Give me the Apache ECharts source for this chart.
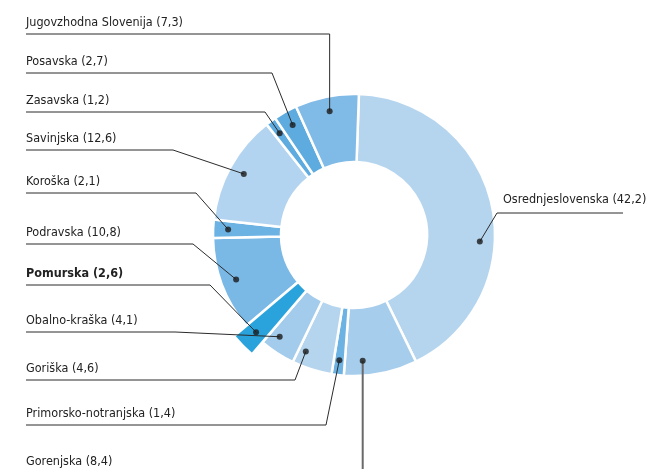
<!DOCTYPE html>
<html>
<head>
<meta charset="utf-8">
<script src="https://cdn.jsdelivr.net/npm/echarts@6/dist/echarts.min.js"></script>
<style>
html,body{margin:0;padding:0;background:#fff;}
#chart{width:651px;height:469px;}
</style>
</head>
<body>
<div id="chart"></div>
<script>
// ---- data ----
const names = ['Osrednjeslovenska','Gorenjska','Primorsko-notranjska','Goriška','Obalno-kraška','Pomurska','Podravska','Koroška','Savinjska','Zasavska','Posavska','Jugovzhodna Slovenija'];
const values = [42.2, 8.4, 1.4, 4.6, 4.1, 2.6, 10.8, 2.1, 12.6, 1.2, 2.7, 7.3];
const highlighted = 'Pomurska';

// ---- styles ----
const colors = ['#b5d5ef','#a6cdec','#6cb3e3','#b5d5ef','#a3cbec','#2aa3dc','#7ab8e6','#6cb3e3','#b3d4f0','#5eabdf','#5eabdf','#80bae6'];
const FONT = '"Liberation Sans Narrow","DejaVu Sans Condensed","Roboto Condensed","Liberation Sans",sans-serif';
const CENTER = [354, 235];
const R_IN = 73, R_OUT = 141, R_OUT_HL = 157;
const START = 88;

// ---- annotation layout (label line rows) ----
const annot = [
  {lineY:213, bendX:497, endX:623, textX:503, shift:15},
  {lineY:473, bendX:null, shift:7, lineColor:'#6a6a6a', lineWidth:2},
  {lineY:425, bendX:326},
  {lineY:380, bendX:295, shift:5},
  {lineY:332, bendX:175, shift:3},
  {lineY:285, bendX:210, dotR:138},
  {lineY:244, bendX:193},
  {lineY:193, bendX:196},
  {lineY:150, bendX:173},
  {lineY:112, bendX:265},
  {lineY:73,  bendX:272},
  {lineY:34,  bendX:null}
];
const LEFT_X = 26;

const total = values.reduce((a,b)=>a+b,0);
const cum = [];
values.reduce((acc,v,i)=>{cum[i]=acc; return acc+v;},0);
function dotPct(i){ return (cum[i] + values[i]/2)/total*100 + (annot[i].shift||0)/3.6; }
function dotR(i){ return annot[i].dotR || 126; }
function dotPixel(i){
  const th = ((90-START) + dotPct(i)*3.6) * Math.PI/180;
  const r = dotR(i);
  return [CENTER[0] + r*Math.sin(th), CENTER[1] - r*Math.cos(th)];
}
function fmt(v){ return String(v).replace('.', ','); }

const pieData = names.map((n,i)=>({
  name:n, value:values[i],
  itemStyle:{color:colors[i]}
}));
const overlayData = names.map((n,i)=>({
  name:n, value:values[i],
  itemStyle: n===highlighted ? {color:colors[i], borderColor:'#fff', borderWidth:2.5} : {color:'rgba(0,0,0,0)', borderWidth:0}
}));
const labelData = names.map((n,i)=>({
  name:n, value:values[i],
  itemStyle:{color:'rgba(0,0,0,0)', borderWidth:0},
  label: n===highlighted ? {fontWeight:'bold'} : {},
  labelLine: {lineStyle:{color:annot[i].lineColor || '#2b2b2b', width:annot[i].lineWidth || 1}}
}));
const dotData = names.map((n,i)=>[dotR(i), dotPct(i)]);

function layoutLabel(params){
  const i = params.dataIndex;
  const a = annot[i];
  const d = dotPixel(i);
  if (a.textX !== undefined) {
    return {x:a.textX, y:a.lineY-13, align:'left', verticalAlign:'middle',
      labelLinePoints:[d, [a.bendX, a.lineY], [a.endX, a.lineY]]};
  }
  const bx = a.bendX === null ? d[0] : a.bendX;
  return {x:LEFT_X, y:a.lineY-11, align:'left', verticalAlign:'middle',
    labelLinePoints:[d, [bx, a.lineY], [LEFT_X, a.lineY]]};
}

const chart = echarts.init(document.getElementById('chart'), null, {renderer:'canvas'});
chart.setOption({
  animation:false,
  backgroundColor:'#fff',
  polar:{center:CENTER, radius:[0, R_OUT]},
  angleAxis:{type:'value', min:0, max:100, startAngle:START, clockwise:true,
    axisLine:{show:false}, axisTick:{show:false}, axisLabel:{show:false}, splitLine:{show:false}},
  radiusAxis:{type:'value', min:0, max:R_OUT,
    axisLine:{show:false}, axisTick:{show:false}, axisLabel:{show:false}, splitLine:{show:false}},
  series:[
    {
      type:'pie', z:2, silent:true,
      center:CENTER, radius:[R_IN, R_OUT], startAngle:START, clockwise:true,
      itemStyle:{borderColor:'#fff', borderWidth:2.5},
      label:{show:false}, labelLine:{show:false},
      emphasis:{disabled:true},
      data:pieData
    },
    {
      type:'pie', z:3, silent:true,
      center:CENTER, radius:[R_IN, R_OUT_HL], startAngle:START, clockwise:true,
      label:{show:false}, labelLine:{show:false},
      emphasis:{disabled:true},
      data:overlayData
    },
    {
      type:'pie', z:4, silent:true,
      center:CENTER, radius:[R_IN, R_OUT], startAngle:START, clockwise:true,
      avoidLabelOverlap:false,
      label:{show:true, position:'outside', color:'#222', fontSize:12.5, fontFamily:FONT,
        formatter:(p)=>p.name+' ('+fmt(p.value)+')'},
      labelLine:{show:true, length:10, length2:10, smooth:false},
      labelLayout:layoutLabel,
      emphasis:{disabled:true},
      data:labelData
    },
    {
      type:'scatter', coordinateSystem:'polar', z:5, silent:true,
      symbol:'circle', symbolSize:6, itemStyle:{color:'#1a1a1a'},
      data:dotData
    }
  ]
});
</script>
</body>
</html>
